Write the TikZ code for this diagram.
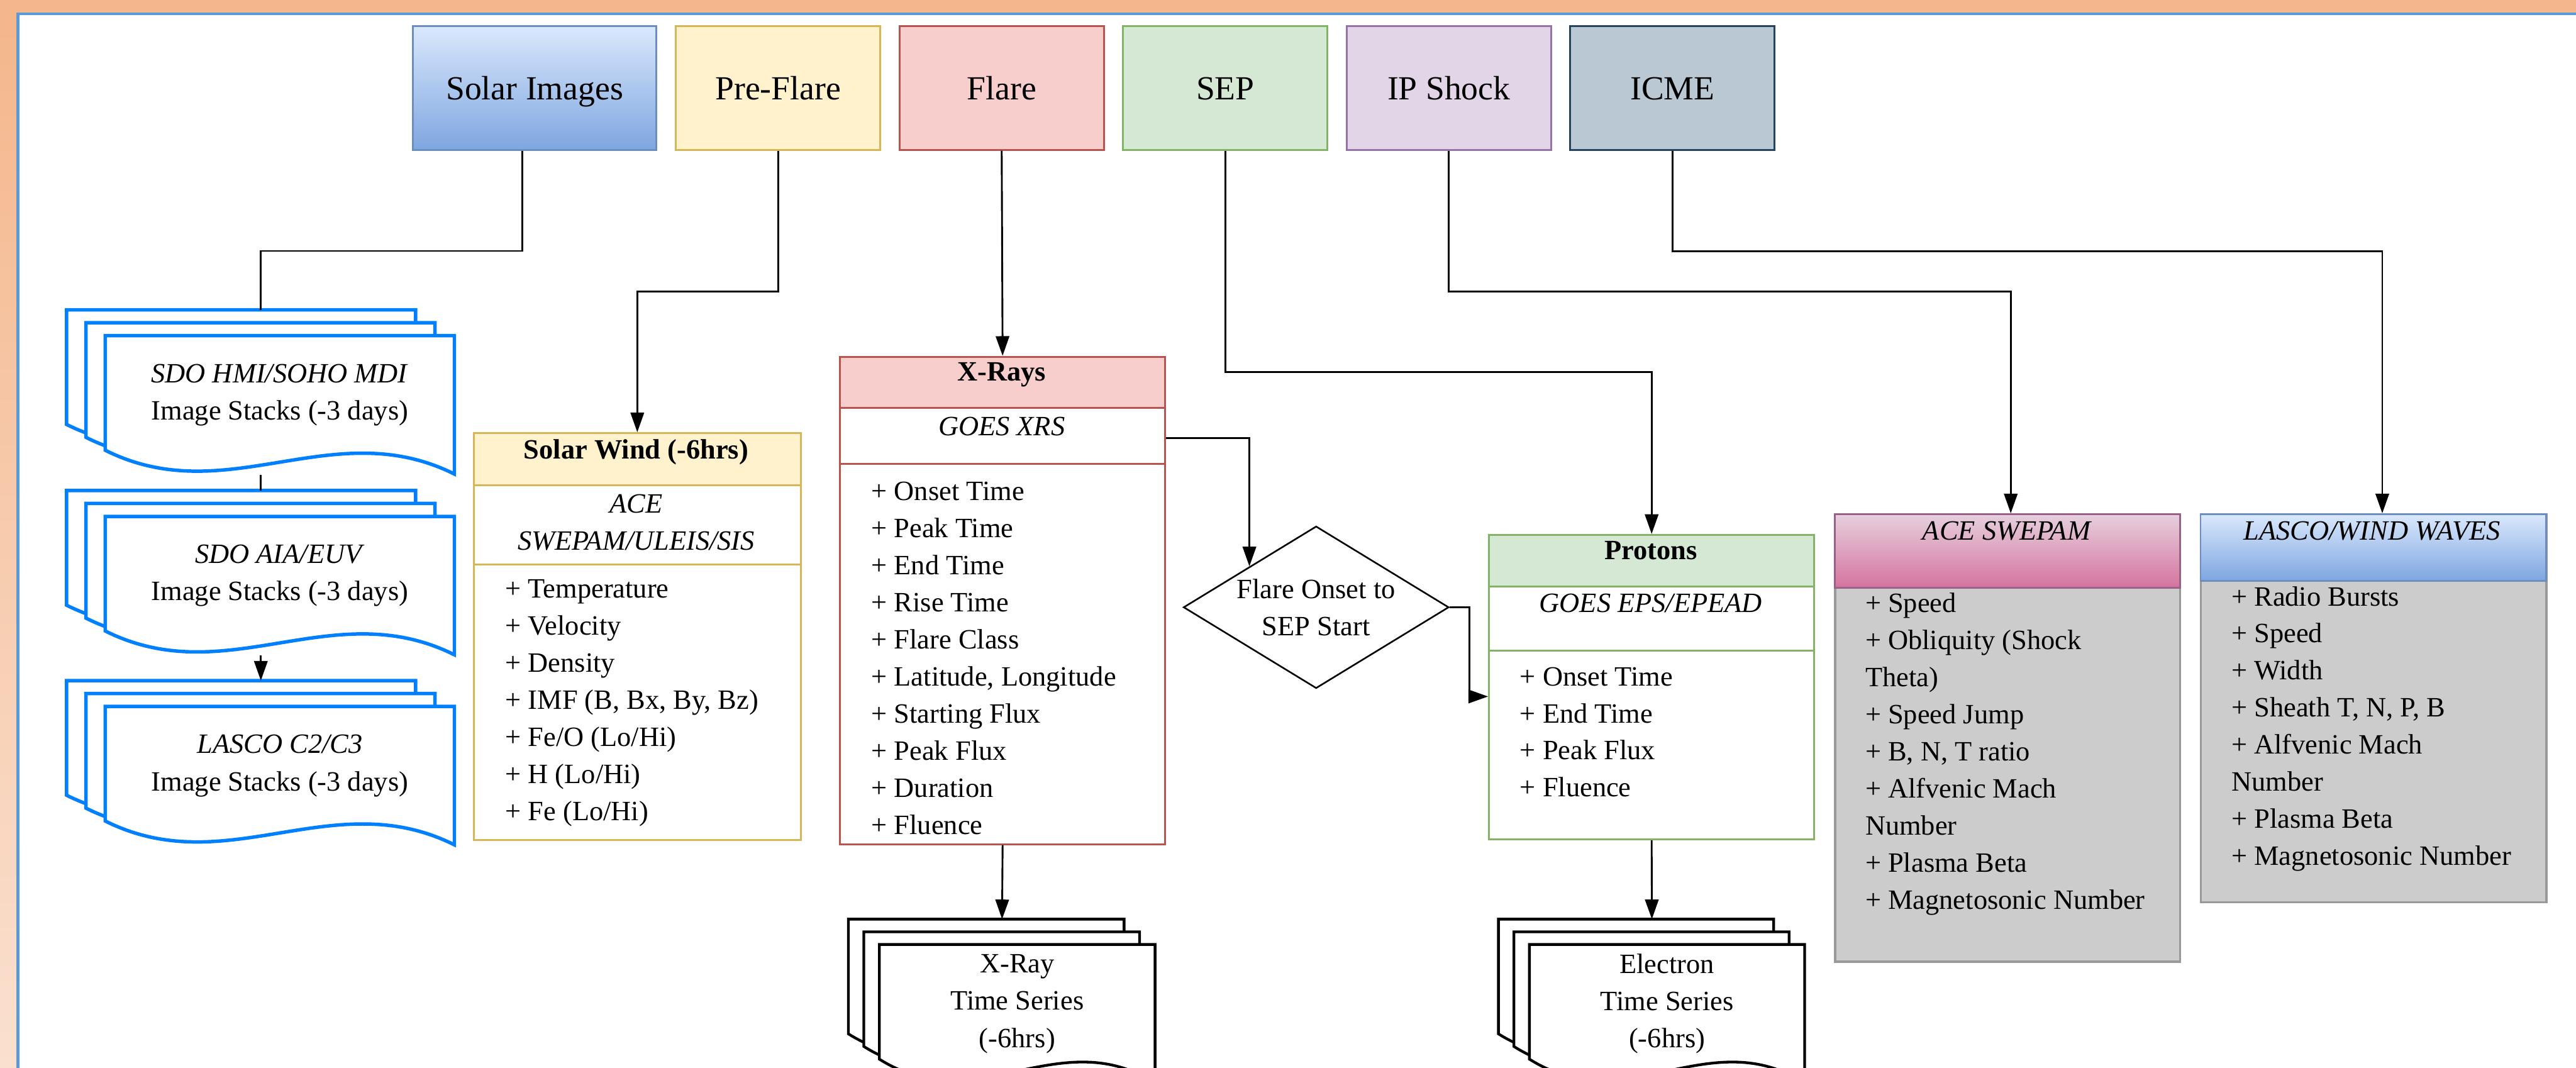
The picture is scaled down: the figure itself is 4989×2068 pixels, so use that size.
\documentclass[tikz,border=0pt]{standalone}
\usepackage{fontspec}
\setmainfont{Liberation Serif}
\usetikzlibrary{arrows.meta, shapes.geometric}
\usepackage{xcolor}

\definecolor{bgorange}{HTML}{F4B68B}
\definecolor{bgpale}{HTML}{FAE0CF}
\definecolor{frameblue}{HTML}{5B9BD5}
\definecolor{stackblue}{HTML}{007FFF}
\definecolor{blueF}{HTML}{DAE8FC}
\definecolor{blueG}{HTML}{7EA6E0}
\definecolor{blueD}{HTML}{6C8EBF}
\definecolor{yellowF}{HTML}{FFF2CC}
\definecolor{yellowD}{HTML}{D6B656}
\definecolor{redF}{HTML}{F8CECC}
\definecolor{redD}{HTML}{B85450}
\definecolor{greenF}{HTML}{D5E8D4}
\definecolor{greenD}{HTML}{82B366}
\definecolor{purpleF}{HTML}{E1D5E7}
\definecolor{purpleD}{HTML}{9673A6}
\definecolor{slateF}{HTML}{BAC8D3}
\definecolor{slateD}{HTML}{23445D}
\definecolor{pinkF}{HTML}{E6D0DE}
\definecolor{pinkG}{HTML}{D5739D}
\definecolor{pinkD}{HTML}{996185}
\definecolor{bodygray}{HTML}{CCCCCC}
\definecolor{edgegray}{HTML}{999999}

% stack of three pages: name, left, top, width, x step, y step, line style, text
\newcommand{\docstack}[8]{
	\foreach \lay in {0,1,2}{
		\pgfmathsetmacro\stkl{#2+#5*\lay}
		\pgfmathsetmacro\stkr{\stkl+#4}
		\pgfmathsetmacro\stkt{#3+#6*\lay}
		\pgfmathsetmacro\stkca{\stkr-0.35*#4}
		\pgfmathsetmacro\stkcb{\stkl+0.35*#4}
		\draw[docpage, #7] (\stkl,\stkt) -- (\stkr,\stkt) -- (\stkr,\stkt+268)
			.. controls (\stkca,\stkt+150) and (\stkcb,\stkt+340) .. (\stkl,\stkt+222) -- cycle;
	}
	\node[inner sep=0pt, anchor=north west, minimum width={(#4+2*#5)*0.1mm}, minimum height={(268+2*#6)*0.1mm}] (#1) at (#2,#3) {};
	\node[doctext] (#1-text) at ({#2+2*#5+#4/2}, {#3+2*#6+115}) {#8};
}

\begin{document}
\begin{tikzpicture}[x=0.1mm, y=-0.1mm]
	\tikzstyle{cat}=[rectangle, draw, line width=1.1pt, minimum width=3.96cm, minimum height=2.39cm, text height=13pt, text depth=0pt, font=\fontsize{18.6}{22}\selectfont]
	\tikzstyle{classbox}=[rectangle, draw, line width=1pt, fill=white, anchor=north west, inner sep=0pt]
	\tikzstyle{titletext}=[anchor=base, inner sep=0pt, font=\fontsize{15.4}{20.5}\selectfont\bfseries]
	\tikzstyle{subtext}=[anchor=base, inner sep=0pt, align=center, font=\fontsize{15.4}{20.5}\selectfont\itshape]
	\tikzstyle{itemtext}=[anchor=base west, inner sep=0pt, font=\fontsize{15.4}{20.5}\selectfont]
	\tikzstyle{docpage}=[fill=white, line join=miter]
	\tikzstyle{doctext}=[align=center, inner sep=0pt, font=\fontsize{15.4}{20.5}\selectfont]
	\tikzstyle{decision}=[diamond, draw, line width=0.9pt, aspect=1.64, inner sep=0pt, minimum width=5.14cm, minimum height=3.14cm, align=center, font=\fontsize{15.4}{20.5}\selectfont]
	\tikzstyle{conn}=[draw=black, line width=1pt]
	\tikzstyle{arr}=[conn, -{Triangle[length=3.8mm, width=2.6mm]}]

	\useasboundingbox (0,0) rectangle (4989,2068);
	\clip (0,0) rectangle (4989,2068);

	% frame
	\shade[top color=bgorange, bottom color=bgpale] (0,0) rectangle (32,2068);
	\fill[bgorange] (0,0) rectangle (4989,24);
	\fill[frameblue] (32,24) rectangle (38,2068);
	\fill[frameblue] (32,24) rectangle (4989,29.5);

	% event categories
	\node[cat, minimum width=4.71cm, top color=blueF, bottom color=blueG, draw=blueD] (solar) at (1035.5,170.5) {Solar Images};
	\foreach \nm/\txt/\fc/\dc [count=\i from 0] in {pre/Pre-Flare/yellowF/yellowD, flare/Flare/redF/redD, sep/SEP/greenF/greenD, ipshock/IP Shock/purpleF/purpleD, icme/ICME/slateF/slateD}
		\node[cat, fill=\fc, draw=\dc] (\nm) at ({1507+433*\i},170.5) {\txt};

	% image and time series stacks
	\docstack{hmi}{129}{600}{676}{37.5}{25}{draw=stackblue, line width=1.9pt}{\textit{SDO HMI/SOHO MDI}\\Image Stacks (-3 days)}
	\docstack{aia}{129}{950}{676}{37.5}{25}{draw=stackblue, line width=1.9pt}{\textit{SDO AIA/EUV}\\Image Stacks (-3 days)}
	\docstack{corona}{129}{1318}{676}{37.5}{25}{draw=stackblue, line width=1.9pt}{\textit{LASCO C2/C3}\\Image Stacks (-3 days)}
	\docstack{xts}{1643}{1780}{534}{30}{24.5}{draw=black, line width=1.5pt}{X-Ray\\Time Series\\(-6hrs)}
	\docstack{ets}{2902}{1780}{533}{30}{24.5}{draw=black, line width=1.5pt}{Electron\\Time Series\\(-6hrs)}

	% solar wind
	\node[classbox, draw=yellowD, minimum width=6.33cm, minimum height=7.88cm] (wind) at (916,837) {};
	\node[classbox, fill=yellowF, draw=yellowD, minimum width=6.33cm, minimum height=1.01cm] (wind-head) at (wind.north west) {};
	\draw[yellowD, line width=1pt] ([yshift=-2.56cm]wind.north west) -- ([yshift=-2.56cm]wind.north east);
	\node[titletext] (wind-title) at (1232,889) {Solar Wind (-6hrs)};
	\node[subtext, anchor=center] (wind-sub) at (1232,1012) {ACE\\SWEPAM/ULEIS/SIS};
	\foreach \itm [count=\i] in {Temperature, Velocity, Density, {IMF (B, Bx, By, Bz)}, Fe/O (Lo/Hi), H (Lo/Hi), Fe (Lo/Hi)}
		\node[itemtext] (wind-\i) at (978,{1158+71.8*(\i-1)}) {+ \itm};

	% x-rays
	\node[classbox, draw=redD, minimum width=6.3cm, minimum height=9.44cm] (xrays) at (1625,689) {};
	\node[classbox, fill=redF, draw=redD, minimum width=6.3cm, minimum height=0.99cm] (xrays-head) at (xrays.north west) {};
	\draw[redD, line width=1pt] ([yshift=-2.09cm]xrays.north west) -- ([yshift=-2.09cm]xrays.north east);
	\node[titletext] (xrays-title) at (1940,738) {X-Rays};
	\node[subtext] (xrays-sub) at (1940,844) {GOES XRS};
	\foreach \itm [count=\i] in {Onset Time, Peak Time, End Time, Rise Time, Flare Class, {Latitude, Longitude}, Starting Flux, Peak Flux, Duration, Fluence}
		\node[itemtext] (xrays-\i) at (1687,{969+71.8*(\i-1)}) {+ \itm};

	\node[decision] (onset) at (2549,1176) {Flare Onset to\\SEP Start};

	% protons
	\node[classbox, draw=greenD, minimum width=6.3cm, minimum height=5.9cm] (protons) at (2882,1034) {};
	\node[classbox, fill=greenF, draw=greenD, minimum width=6.3cm, minimum height=1.0cm] (protons-head) at (protons.north west) {};
	\draw[greenD, line width=1pt] ([yshift=-2.26cm]protons.north west) -- ([yshift=-2.26cm]protons.north east);
	\node[titletext] (protons-title) at (3197,1084) {Protons};
	\node[subtext] (protons-sub) at (3197,1186) {GOES EPS/EPEAD};
	\foreach \itm [count=\i] in {Onset Time, End Time, Peak Flux, Fluence}
		\node[itemtext] (protons-\i) at (2943,{1328+71.5*(\i-1)}) {+ \itm};

	% ip shock
	\node[classbox, fill=bodygray, draw=edgegray, line width=1.3pt, minimum width=6.68cm, minimum height=8.66cm] (swepam) at (3552,994) {};
	\node[classbox, top color=pinkF, bottom color=pinkG, draw=pinkD, minimum width=6.68cm, minimum height=1.43cm] (swepam-head) at (swepam.north west) {};
	\node[subtext] (swepam-title) at (3886,1046) {ACE SWEPAM};
	\foreach \itm [count=\i] in {+ Speed, + Obliquity (Shock, Theta), + Speed Jump, {+ B, N, T ratio}, + Alfvenic Mach, Number, + Plasma Beta, + Magnetosonic Number}
		\node[itemtext] (swepam-\i) at (3612,{1186+71.8*(\i-1)}) {\itm};

	% icme
	\node[classbox, fill=bodygray, draw=edgegray, line width=1.3pt, minimum width=6.69cm, minimum height=7.51cm] (waves) at (4260,994) {};
	\node[classbox, top color=blueF, bottom color=blueG, draw=blueD, minimum width=6.69cm, minimum height=1.29cm] (waves-head) at (waves.north west) {};
	\node[subtext] (waves-title) at (4594,1046) {LASCO/WIND WAVES};
	\foreach \itm [count=\i] in {+ Radio Bursts, + Speed, + Width, {+ Sheath T, N, P, B}, + Alfvenic Mach, Number, + Plasma Beta, + Magnetosonic Number}
		\node[itemtext] (waves-\i) at (4321,{1173+71.8*(\i-1)}) {\itm};

	% connectors
	\draw[conn] ([xshift=-2.35mm]solar.south) -- ++(0,-1.94cm) -| (hmi.north);
	\draw[conn] (hmi.south) -- (aia.north);
	\draw[arr] (aia.south) -- (corona.north);
	\draw[arr] (pre.south) -- ++(0,-2.73cm) -| (wind.north);
	\draw[arr] (flare.south) -- (xrays.north);
	\draw[arr] (sep.south) -- ++(0,-4.29cm) -| (protons.north);
	\draw[arr] (ipshock.south) -- ++(0,-2.73cm) -| ([xshift=0.6mm]swepam.north);
	\draw[arr] (icme.south) -- ++(0,-1.95cm) -| ([xshift=1.7mm]waves.north);
	\draw[arr] ([yshift=3.14cm]xrays.east) -| (onset.north west);
	\draw[arr] (onset.east) -- ++(0.38cm,0) |- ([yshift=-1.8mm]protons.west);
	\draw[arr] (xrays.south) -- (xts.north);
	\draw[arr] (protons.south) -- (ets.north);
\end{tikzpicture}
\end{document}
